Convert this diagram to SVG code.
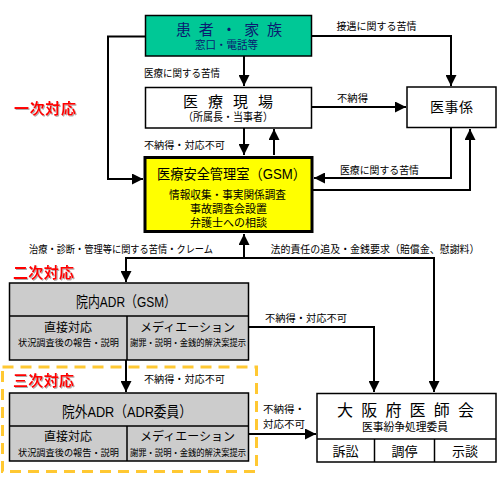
<svg xmlns="http://www.w3.org/2000/svg" width="500" height="480" viewBox="0 0 500 480">
<defs>
<marker id="ah" viewBox="0 0 10 10" refX="10" refY="5" markerWidth="11" markerHeight="11" markerUnits="userSpaceOnUse" orient="auto">
<path d="M0,0 L10,5 L0,10 z" fill="#000"/>
</marker>
<filter id="sh" x="-10%" y="-20%" width="130%" height="150%">
<feDropShadow dx="1" dy="1" stdDeviation="0.4" flood-color="#999" flood-opacity="0.8"/>
</filter>
<style>
text{font-family:"Liberation Sans","Noto Sans CJK JP",sans-serif;dominant-baseline:central;fill:#000}
.c{text-anchor:middle}
.t{font-size:14px}
.s{font-size:11px}
.l{font-size:10.5px}
.xs{font-size:9.5px}
.red{font-size:15px;font-weight:bold;fill:#ff0000;filter:url(#sh)}
.box{stroke:#000;stroke-width:1.5}
.conn path{fill:none;stroke:#000;stroke-width:2;marker-end:url(#ah)}
</style>
</defs>
<rect width="500" height="480" fill="#fff"/>

<g id="labels-level">
<text class="red" x="14" y="108" textLength="62">一次対応</text>
<text class="red" x="13" y="272" textLength="61">二次対応</text>
<text class="red" x="13" y="380" textLength="61">三次対応</text>
</g>

<g id="frame3">
<rect x="2.5" y="367" width="254" height="104.5" fill="none" stroke="#FFC832" stroke-width="3" stroke-dasharray="11,7"/>
</g>

<g class="conn" id="connectors">
<path d="M145,36.5 H108 V179 H143"/>
<path d="M244,56 V86"/>
<path d="M244,128 V155"/>
<path d="M274,155 V129"/>
<path d="M312,36 H451 V86"/>
<path d="M312,107 H406"/>
<path d="M451,128 V178 H314"/>
<path d="M313,190 H470 V129"/>
<path d="M244,258 V234"/>
<path d="M244,258 H126 V282"/>
<path d="M244,258 H434 V392"/>
<path d="M248,327 H374 V392"/>
<path d="M126,360 V392"/>
<path d="M248,434 H316"/>
</g>

<g id="edge-labels">
<text class="l" x="336.5" y="26" textLength="80" lengthAdjust="spacingAndGlyphs">接遇に関する苦情</text>
<text class="l" x="144" y="73" textLength="76" lengthAdjust="spacingAndGlyphs">医療に関する苦情</text>
<text class="l" x="337" y="98" textLength="31" lengthAdjust="spacingAndGlyphs">不納得</text>
<text class="l" x="144" y="145" textLength="81" lengthAdjust="spacingAndGlyphs">不納得・対応不可</text>
<text class="l" x="340" y="169.5" textLength="79" lengthAdjust="spacingAndGlyphs">医療に関する苦情</text>
<text class="l" x="29" y="248.5" textLength="184" lengthAdjust="spacingAndGlyphs">治療・診断・管理等に関する苦情・クレーム</text>
<text class="l" x="270.5" y="248.5" textLength="209" lengthAdjust="spacingAndGlyphs">法的責任の追及・金銭要求（賠償金、慰謝料）</text>
<text class="l" x="265" y="317.5" textLength="82" lengthAdjust="spacingAndGlyphs">不納得・対応不可</text>
<text class="l" x="144" y="379" textLength="81" lengthAdjust="spacingAndGlyphs">不納得・対応不可</text>
<text class="l" x="263" y="408.5" textLength="42" lengthAdjust="spacingAndGlyphs">不納得・</text>
<text class="l" x="263" y="423.5" textLength="42" lengthAdjust="spacingAndGlyphs">対応不可</text>
</g>

<g id="patient">
<rect class="box" x="145.5" y="15.5" width="166" height="40.5" fill="#00C896"/>
<text class="t" x="176" y="29.5" textLength="106" style="fill:#0a1a70;font-size:15px">患者・家族</text>
<text class="s" x="195" y="45" textLength="63" lengthAdjust="spacingAndGlyphs" style="fill:#0a1a70">窓口・電話等</text>
</g>

<g id="genba">
<rect class="box" x="145.5" y="87.5" width="166" height="40.5" fill="#fff"/>
<text class="t" x="183" y="101" textLength="90" style="font-size:15px">医療現場</text>
<text class="s" x="183" y="117" textLength="90" lengthAdjust="spacingAndGlyphs">（所属長・当事者）</text>
</g>

<g id="ijigakari">
<rect class="box" x="407" y="87" width="89" height="40.5" fill="#fff"/>
<text class="t" x="430" y="107" textLength="43">医事係</text>
</g>

<g id="gsm">
<rect x="145" y="157.5" width="167" height="74" fill="#FFFF00" stroke="#000" stroke-width="3"/>
<text class="t" x="157" y="174" textLength="149" lengthAdjust="spacingAndGlyphs">医療安全管理室（GSM）</text>
<text class="s" x="169" y="194.5" textLength="117" lengthAdjust="spacingAndGlyphs">情報収集・事実関係調査</text>
<text class="s c" x="228.5" y="209">事故調査会設置</text>
<text class="s c" x="228.5" y="223">弁護士への相談</text>
</g>

<g id="innai">
<rect class="box" x="9.5" y="283" width="239" height="77" fill="#CCCCCC"/>
<line class="box" x1="9.5" y1="316" x2="248.5" y2="316"/>
<line class="box" x1="127" y1="316" x2="127" y2="360"/>
<text x="76" y="301" textLength="100" lengthAdjust="spacingAndGlyphs" style="font-size:15px">院内ADR（GSM）</text>
<text class="c" x="68" y="328" style="font-size:12px">直接対応</text>
<text class="xs" x="18" y="342.5" textLength="101" lengthAdjust="spacingAndGlyphs">状況調査後の報告・説明</text>
<text class="c" x="187.5" y="328" style="font-size:12px">メディエーション</text>
<text class="xs" x="130" y="342.5" textLength="116" lengthAdjust="spacingAndGlyphs">謝罪・説明・金銭的解決案提示</text>
</g>

<g id="ingai">
<rect class="box" x="9.5" y="393" width="239" height="68" fill="#CCCCCC"/>
<line class="box" x1="9.5" y1="426" x2="248.5" y2="426"/>
<line class="box" x1="127" y1="426" x2="127" y2="461"/>
<text x="62" y="411" textLength="130" lengthAdjust="spacingAndGlyphs" style="font-size:15px">院外ADR（ADR委員）</text>
<text class="c" x="68" y="437" style="font-size:12px">直接対応</text>
<text class="xs" x="18" y="452.5" textLength="101" lengthAdjust="spacingAndGlyphs">状況調査後の報告・説明</text>
<text class="c" x="187.5" y="437" style="font-size:12px">メディエーション</text>
<text class="xs" x="130" y="452.5" textLength="116" lengthAdjust="spacingAndGlyphs">謝罪・説明・金銭的解決案提示</text>
</g>

<g id="ishikai">
<rect class="box" x="317" y="393.5" width="179" height="68.5" fill="#fff"/>
<line class="box" x1="317" y1="439" x2="496" y2="439"/>
<line class="box" x1="374.5" y1="439" x2="374.5" y2="462"/>
<line class="box" x1="434.5" y1="439" x2="434.5" y2="462"/>
<text class="t" x="337" y="410.5" textLength="137" style="font-size:16px">大阪府医師会</text>
<text class="s" x="362" y="427" textLength="86" lengthAdjust="spacingAndGlyphs">医事紛争処理委員</text>
<text class="c" x="345.5" y="451.5" style="font-size:13px">訴訟</text>
<text class="c" x="404.5" y="451.5" style="font-size:13px">調停</text>
<text class="c" x="465" y="451.5" style="font-size:13px">示談</text>
</g>
</svg>
